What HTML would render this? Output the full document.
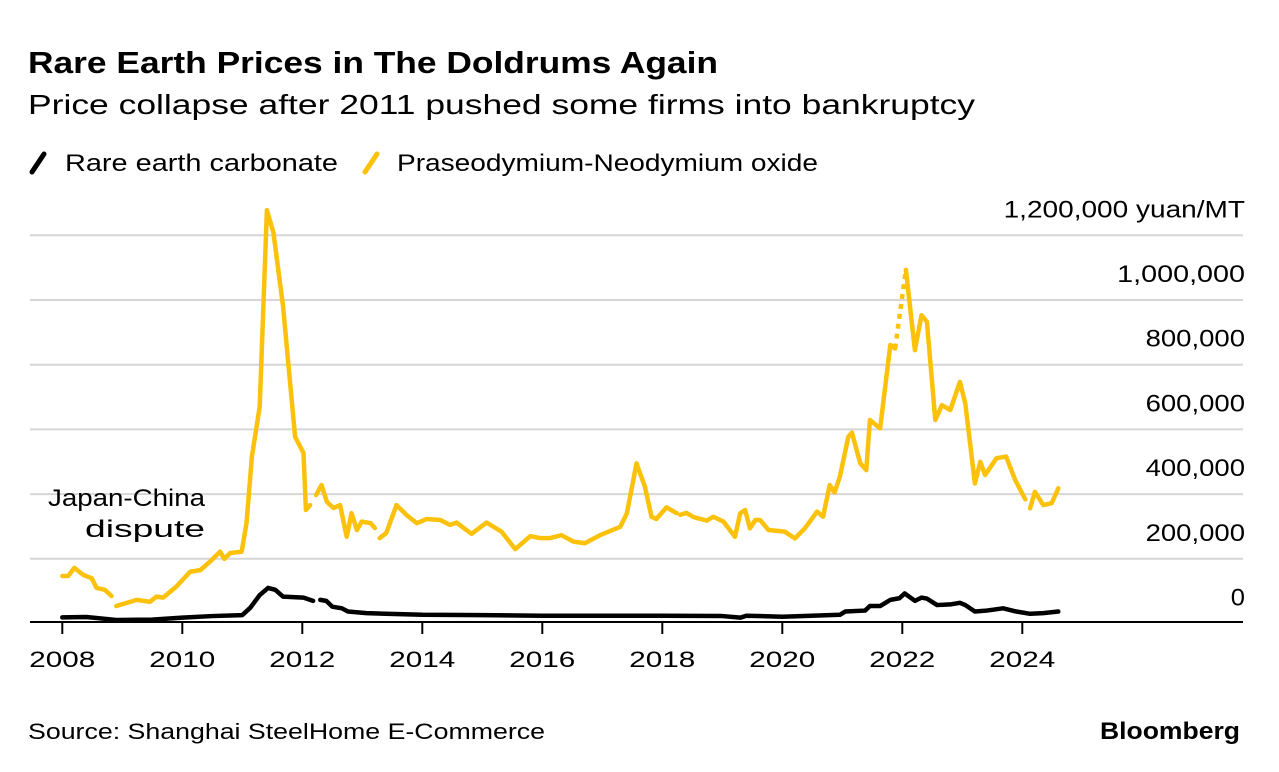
<!DOCTYPE html>
<html><head><meta charset="utf-8">
<style>
body{margin:0;background:#fff;width:1279px;height:772px;overflow:hidden;font-family:"Liberation Sans",sans-serif;}
svg{position:absolute;left:0;top:0}
</style></head>
<body>
<svg width="1279" height="772" id="svg">
<text x="28" y="73" font-size="31" font-weight="bold" fill="#000" textLength="690" lengthAdjust="spacingAndGlyphs">Rare Earth Prices in The Doldrums Again</text>
<text x="28" y="114" font-size="28" fill="#000" textLength="947" lengthAdjust="spacingAndGlyphs">Price collapse after 2011 pushed some firms into bankruptcy</text>
<g>
<line x1="32" y1="172" x2="44" y2="154" stroke="#000" stroke-width="5" stroke-linecap="round"/>
<text x="65" y="171" font-size="24" textLength="273" lengthAdjust="spacingAndGlyphs">Rare earth carbonate</text>
<line x1="365" y1="172" x2="377" y2="154" stroke="#FCC10A" stroke-width="5" stroke-linecap="round"/>
<text x="397" y="171" font-size="24" textLength="421" lengthAdjust="spacingAndGlyphs">Praseodymium-Neodymium oxide</text>
</g>
<g id="grid"></g><g id="series"></g><g id="axes"></g>
<text x="48" y="506" font-size="24" textLength="157" lengthAdjust="spacingAndGlyphs">Japan-China</text>
<text x="85" y="537" font-size="24" textLength="120" lengthAdjust="spacingAndGlyphs">dispute</text>
<text x="28" y="739" font-size="22" fill="#000" textLength="517" lengthAdjust="spacingAndGlyphs">Source: Shanghai SteelHome E-Commerce</text>
<text x="1100" y="739" font-size="24" font-weight="bold" textLength="140" lengthAdjust="spacingAndGlyphs">Bloomberg</text>
</svg>
<script>
const yTicks=[0,200000,400000,600000,800000,1000000,1200000];
const xTicks=[2008,2010,2012,2014,2016,2018,2020,2022,2024];
const prndYears=[2008.0,2008.1,2008.2,2008.35,2008.49,2008.57,2008.71,2008.82,null,2008.9,2009.24,2009.46,2009.57,2009.68,2009.9,2010.13,2010.3,2010.46,2010.63,2010.7,2010.8,2010.99,2011.07,2011.16,2011.29,2011.41,2011.52,2011.68,2011.88,2012.02,2012.06,2012.13,null,2012.23,2012.32,2012.41,2012.52,2012.63,2012.74,2012.82,2012.91,2012.99,2013.14,2013.21,null,2013.29,2013.4,2013.57,2013.74,2013.91,2014.07,2014.3,2014.46,2014.57,2014.82,2015.07,2015.32,2015.55,2015.8,2015.96,2016.13,2016.32,2016.52,2016.71,2016.96,2017.3,2017.41,2017.57,2017.71,2017.82,2017.9,2018.07,2018.24,null,2018.3,2018.4,2018.52,2018.74,2018.85,2019.02,2019.21,2019.3,2019.38,2019.46,2019.55,2019.63,2019.77,2020.04,2020.21,2020.38,2020.58,2020.68,2020.79,2020.87,2020.96,2021.1,2021.16,2021.3,2021.4,2021.46,2021.63,2021.8,2021.88,"dot",2022.06,2022.21,2022.32,2022.41,2022.55,2022.66,2022.8,2022.96,2023.05,2023.21,2023.3,2023.38,2023.57,2023.73,2023.88,2024.05,null,2024.13,2024.21,2024.35,2024.49,2024.6];
const prndValues=[147000,147000,172000,150000,140000,110000,104000,85000,null,54000,73000,67000,83000,80000,114000,160000,165000,191000,222000,200000,218000,222000,310000,516000,670000,1278000,1207000,979000,577000,527000,351000,366000,null,397000,428000,376000,357000,366000,268000,341000,289000,315000,310000,295000,null,264000,280000,366000,335000,310000,323000,320000,305000,312000,277000,312000,284000,230000,270000,264000,264000,273000,253000,248000,273000,299000,341000,495000,423000,330000,323000,359000,341000,null,336000,342000,329000,318000,330000,315000,268000,341000,351000,294000,320000,320000,289000,284000,263000,295000,346000,330000,428000,405000,454000,577000,590000,495000,474000,629000,603000,861000,850000,"dot",1093000,845000,953000,933000,629000,675000,660000,747000,680000,433000,500000,459000,511000,516000,444000,384000,null,356000,407000,366000,372000,418000];
const carbYears=[2008.0,2008.4,2008.9,2009.5,2010.0,2010.5,2011.0,2011.13,2011.29,2011.43,2011.55,2011.68,2012.02,2012.18,null,2012.3,2012.4,2012.5,2012.66,2012.76,2013.07,2014.0,2015.0,2016.0,2017.0,2018.0,2019.0,2019.3,2019.4,2020.0,2020.96,2021.05,2021.38,2021.46,2021.63,2021.8,2021.95,2022.04,2022.21,2022.32,2022.41,2022.58,2022.8,2022.96,2023.05,2023.21,2023.41,2023.68,2023.9,2024.13,2024.35,2024.6];
const carbValues=[19000,20000,11000,12000,18000,23000,26000,48000,88000,110000,104000,83000,80000,70000,null,73000,70000,52000,47000,37000,32000,27000,26000,24000,24000,24000,23000,18000,24000,21000,27000,37000,40000,54000,54000,73000,78000,93000,70000,80000,77000,57000,59000,64000,57000,37000,40000,47000,37000,30000,32000,37000];

const X=t=>62.3+(t-2008)*60;
const Y=v=>623.5-v*64.7/200000;
const NS="http://www.w3.org/2000/svg";
function mk(tag,attrs,parent){const e=document.createElementNS(NS,tag);for(const k in attrs)e.setAttribute(k,attrs[k]);parent.appendChild(e);return e;}
const grid=document.getElementById('grid'),axes=document.getElementById('axes'),series=document.getElementById('series');
yTicks.forEach(v=>{
  if(v>0){const l=mk('line',{x1:30,x2:1243,y1:Y(v),y2:Y(v),stroke:'#d6d6d6','stroke-width':2},grid);
  
  }
  const s=v.toLocaleString('en-US')+(v===1200000?' yuan/MT':'');
  const t=mk('text',{x:1245,y:Y(v)-18,'font-size':24,'text-anchor':'end',textLength:(s.length*14.2).toFixed(1),lengthAdjust:'spacingAndGlyphs'},axes);
  t.textContent=s;
  
  
});
const base=mk('line',{x1:30,x2:1243,y1:622,y2:622,stroke:'#000','stroke-width':2},axes);


xTicks.forEach(t=>{
  const l=mk('line',{x1:X(t),x2:X(t),y1:622,y2:634,stroke:'#000','stroke-width':2},axes);
  
  
  const tx=mk('text',{x:X(t),y:667,'font-size':22,'text-anchor':'middle',textLength:66,lengthAdjust:'spacingAndGlyphs'},axes);
  tx.textContent=t;
  
  
});
function draw(years,vals,color,name){
  let seg=[],prev=null,dotNext=false;
  const flush=()=>{if(seg.length>1){const p=mk('polyline',{points:seg.map(q=>q.join(',')).join(' '),fill:'none',stroke:color,'stroke-width':4.5,'stroke-linejoin':'round','stroke-linecap':'round'},series);
    
    }seg=[];};
  for(let i=0;i<years.length;i++){
    if(years[i]===null){flush();prev=null;continue;}
    if(years[i]==='dot'){flush();dotNext=true;continue;}
    const pt=[X(years[i]),Y(vals[i])];
    if(dotNext&&prev){const d=mk('line',{x1:prev[0],y1:prev[1],x2:pt[0],y2:pt[1],stroke:color,'stroke-width':4.5,'stroke-dasharray':'5 5'},series);
      
      dotNext=false;}
    seg.push(pt);prev=pt;
  }
  flush();
}
draw(prndYears,prndValues,'#FCC10A','prnd-oxide');
draw(carbYears,carbValues,'#000','carbonate');
</script>
</body></html>
